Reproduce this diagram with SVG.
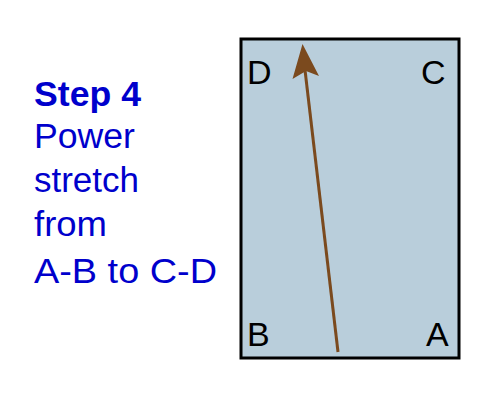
<svg xmlns="http://www.w3.org/2000/svg" width="500" height="400" viewBox="0 0 500 400">
<defs>
<style>
.cap{font-family:"Liberation Sans",Arial,sans-serif;fill:#0000CC;font-size:35px}
.lbl{font-family:"Liberation Sans",Arial,sans-serif;fill:#000;font-size:34px}
</style>
</defs>
<rect width="500" height="400" fill="#fff"/>
<g id="caption">
<text class="cap" x="34" y="106" font-weight="bold" textLength="107" lengthAdjust="spacingAndGlyphs">Step 4</text>
<text class="cap" x="34" y="148" textLength="101" lengthAdjust="spacingAndGlyphs">Power</text>
<text class="cap" x="34" y="192" textLength="105" lengthAdjust="spacingAndGlyphs">stretch</text>
<text class="cap" x="34" y="236" textLength="73" lengthAdjust="spacingAndGlyphs">from</text>
<text class="cap" x="34" y="283" textLength="183" lengthAdjust="spacingAndGlyphs">A-B to C-D</text>
</g>
<g id="board">
<rect x="241" y="39" width="218" height="319" fill="#B9CEDB" stroke="#000" stroke-width="3"/>
<text class="lbl" x="247" y="84">D</text>
<text class="lbl" x="421" y="84">C</text>
<text class="lbl" x="247" y="346">B</text>
<text class="lbl" x="426" y="346">A</text>
</g>
<g id="connectors">
<line x1="338" y1="352" x2="305" y2="70" stroke="#7B4A1E" stroke-width="3"/>
<polygon points="302.5,44 292.5,79 306,71 319,76" fill="#7B4A1E"/>
</g>
</svg>
